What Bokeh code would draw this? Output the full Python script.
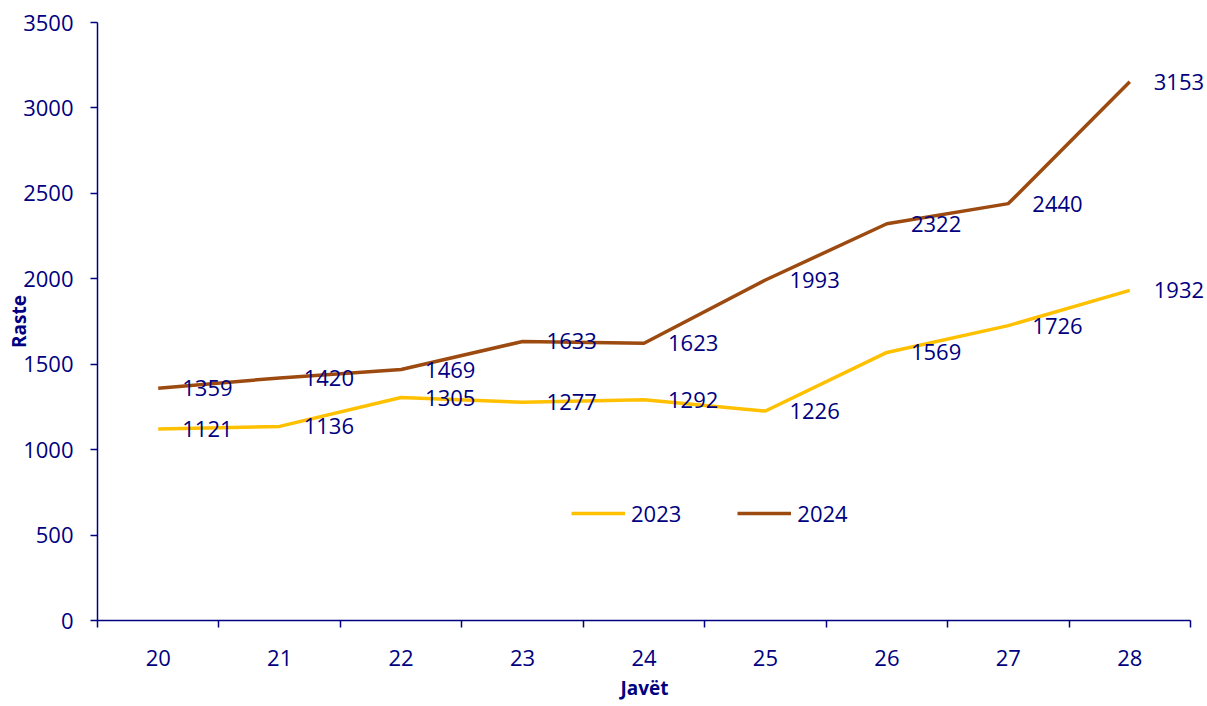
from bokeh.plotting import figure
from bokeh.models import (Range1d, FixedTicker, ColumnDataSource, Legend, LegendItem, Title)
from bokeh.core.properties import value
from bokeh.embed import file_html
from bokeh.resources import INLINE

weeks = [20, 21, 22, 23, 24, 25, 26, 27, 28]
cases_2023 = [1121, 1136, 1305, 1277, 1292, 1226, 1569, 1726, 1932]
cases_2024 = [1359, 1420, 1469, 1633, 1623, 1993, 2322, 2440, 3153]
y_ticks = [0, 500, 1000, 1500, 2000, 2500, 3000, 3500]
series_names = ["2023", "2024"]

NAVY = "#000080"
GOLD = "#FFC000"
BROWN = "#9C4A0F"
FONT = "Open Sans"

# the plotting frame runs to the right edge so the last data labels are not clipped;
# the x axis itself stops at the last category boundary (axis bounds)
x_lo = weeks[0] - 0.5
x_hi_axis = weeks[-1] + 0.5
x_hi = x_lo + (x_hi_axis - x_lo) * 1110 / 1093

p = figure(width=1207, height=706, output_backend="svg", toolbar_location=None,
           x_range=Range1d(x_lo, x_hi),
           y_range=Range1d(0, 3500),
           min_border_left=97, min_border_right=0, min_border_top=22, min_border_bottom=86)
p.outline_line_color = None
p.xgrid.grid_line_color = None
p.ygrid.grid_line_color = None
p.background_fill_color = "white"

src = ColumnDataSource(dict(x=weeks, y23=cases_2023, y24=cases_2024,
                            t23=[str(v) for v in cases_2023],
                            t24=[str(v) for v in cases_2024]))

r23 = p.line("x", "y23", source=src, line_color=GOLD, line_width=3.5)
r24 = p.line("x", "y24", source=src, line_color=BROWN, line_width=3.5)

for col, ycol in (("t23", "y23"), ("t24", "y24")):
    p.text("x", ycol, text=col, source=src, x_offset=24, text_baseline="middle",
           text_align="left", text_color=NAVY, text_font=value(FONT),
           text_font_size="22px")

# x axis: labels at category centres, ticks between categories
xa = p.xaxis[0]
xa.bounds = (x_lo, x_hi_axis)
xa.ticker = FixedTicker(ticks=weeks, minor_ticks=[w - 0.5 for w in weeks] + [x_hi_axis])
xa.major_tick_out = 0
xa.major_tick_in = 0
xa.minor_tick_out = 7
xa.minor_tick_in = 0
xa.minor_tick_line_color = NAVY
xa.minor_tick_line_width = 1.5
xa.axis_line_color = NAVY
xa.axis_line_width = 1.5
xa.major_label_standoff = 22
xa.major_label_text_color = NAVY
xa.major_label_text_font = FONT
xa.major_label_text_font_size = "22px"

ya = p.yaxis[0]
ya.ticker = FixedTicker(ticks=y_ticks, minor_ticks=[])
ya.major_tick_out = 7
ya.major_tick_in = 0
ya.major_tick_line_color = NAVY
ya.major_tick_line_width = 1.5
ya.axis_line_color = NAVY
ya.axis_line_width = 1.5
ya.major_label_standoff = 17
ya.major_label_text_color = NAVY
ya.major_label_text_font = FONT
ya.major_label_text_font_size = "22px"
ya.axis_label = "Raste"
ya.axis_label_standoff = -12
ya.axis_label_text_font = FONT
ya.axis_label_text_font_style = "bold"
ya.axis_label_text_font_size = "19px"
ya.axis_label_text_color = NAVY

# x-axis title, centred under the axis (not under the wider frame)
p.add_layout(Title(text="Javët", align="left", offset=523, standoff=8,
                   text_font=FONT, text_font_style="bold", text_font_size="19px",
                   text_color=NAVY), "below")

legend = Legend(items=[LegendItem(label=series_names[0], renderers=[r23]),
                       LegendItem(label=series_names[1], renderers=[r24])],
                orientation="horizontal", location=(474, 92),
                glyph_width=54, glyph_height=24, label_height=24,
                label_standoff=6, spacing=56, padding=0, margin=0,
                border_line_color=None, background_fill_alpha=0,
                label_text_font=FONT, label_text_font_size="22px",
                label_text_color=NAVY)
p.add_layout(legend)

open("out.html", "w").write(file_html(p, INLINE))
